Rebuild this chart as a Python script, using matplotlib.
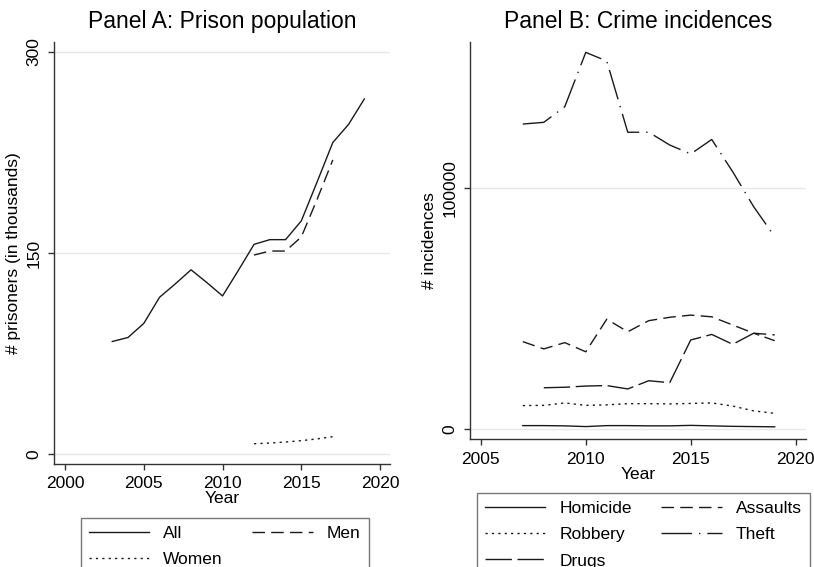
import matplotlib
matplotlib.use("Agg")
import matplotlib.pyplot as plt

plt.rcParams['font.family'] = ['Liberation Sans', 'DejaVu Sans']

# Panel A: prison population (thousands)
years_all = [2003, 2004, 2005, 2006, 2007, 2008, 2009, 2010, 2011, 2012,
             2013, 2014, 2015, 2016, 2017, 2018, 2019]
prison_all = [84, 87, 97.5, 117, 127, 137.5, 128, 118, 137, 156.5,
              160, 160, 174, 203, 232.5, 246, 265]
years_sex = [2012, 2013, 2014, 2015, 2016, 2017]
prison_men = [148.5, 151.5, 151.5, 162, 190, 219.5]
prison_women = [7.7, 8.2, 9.0, 10.0, 11.3, 13.0]

# Panel B: crime incidences
years_crime = [2007, 2008, 2009, 2010, 2011, 2012, 2013,
               2014, 2015, 2016, 2017, 2018, 2019]
homicide = [1400, 1400, 1300, 1000, 1400, 1400, 1300,
            1300, 1500, 1300, 1100, 1000, 900]
assaults = [36200, 33200, 35800, 32000, 45500, 40300, 44900,
            46300, 47200, 46500, 43100, 39700, 39000]
robbery = [9700, 9800, 10800, 9800, 10000, 10500, 10500,
           10400, 10600, 10800, 9500, 7500, 6500]
theft = [126400, 127100, 133600, 156100, 152500, 123000, 123000,
         117700, 114000, 120000, 106600, 92100, 79700]
years_drugs = [2008, 2009, 2010, 2011, 2012, 2013,
               2014, 2015, 2016, 2017, 2018, 2019]
drugs = [17100, 17300, 17800, 18000, 16600, 20000,
         19200, 36900, 39200, 35100, 39700, 36600]

LINE = '#1a1a1a'
GRID = '#e8e8e8'
SPINE = '#333333'

ls_solid = '-'
ls_dash = (0, (9, 4.5))
ls_dot = (0, (1.6, 3))
ls_longdash = (0, (19, 4))
ls_longdashdot = (0, (22, 5, 1, 5))

fig = plt.figure(figsize=(8.14, 5.67), dpi=100)
W, H = 814, 567


def px_axes(left, top, right, bottom):
    return fig.add_axes([left / W, 1 - bottom / H, (right - left) / W, (bottom - top) / H])


def style(ax):
    for s in ('top', 'right'):
        ax.spines[s].set_visible(False)
    for s in ('left', 'bottom'):
        ax.spines[s].set_color(SPINE)
        ax.spines[s].set_linewidth(1.0)
    ax.tick_params(direction='out', length=4, width=1.0, color=SPINE,
                   labelsize=12.5, pad=5)
    ax.grid(axis='y', color=GRID, linewidth=1.0)
    ax.set_axisbelow(True)
    for lab in ax.get_yticklabels():
        lab.set_rotation(90)
        lab.set_va('center')


def row_legend(ax, order, anchor_px):
    # legend laid out row by row (matplotlib fills column-wise)
    handles, labels = ax.get_legend_handles_labels()
    lookup = dict(zip(labels, handles))
    leg = ax.legend([lookup[k] for k in order], order, ncol=2, loc='upper left',
                    bbox_to_anchor=(anchor_px[0] / W, 1 - anchor_px[1] / H),
                    bbox_transform=fig.transFigure, frameon=True, fancybox=False,
                    edgecolor='#555555', fontsize=12.5, handlelength=3.5,
                    handletextpad=0.8, columnspacing=1.7, labelspacing=0.65,
                    borderpad=0.45, borderaxespad=0)
    leg.get_frame().set_linewidth(1.0)
    return leg


# Panel A
axA = px_axes(54, 42, 390, 463.7)
axA.plot(years_all, prison_all, color=LINE, lw=1.0, ls=ls_solid, label='All')
axA.plot(years_sex, prison_men, color=LINE, lw=1.0, ls=ls_dash, label='Men')
axA.plot(years_sex, prison_women, color=LINE, lw=1.0, ls=ls_dot, label='Women')
axA.set_xlim(1999.3, 2020.63)
axA.set_ylim(-7.2, 307.5)
axA.set_xticks([2000, 2005, 2010, 2015, 2020])
axA.set_yticks([0, 150, 300])
style(axA)
axA.set_xlabel('Year', fontsize=12.5, labelpad=0)
axA.set_ylabel('# prisoners (in thousands)', fontsize=12.5, labelpad=4)
axA.set_title('Panel A: Prison population', fontsize=16.5, pad=10)
row_legend(axA, ['All', 'Women', 'Men'], (80.7, 517.7))

# Panel B
axB = px_axes(470.3, 42, 806, 439.3)
axB.plot(years_crime, homicide, color=LINE, lw=1.0, ls=ls_solid, label='Homicide')
axB.plot(years_crime, assaults, color=LINE, lw=1.0, ls=ls_dash, label='Assaults')
axB.plot(years_crime, robbery, color=LINE, lw=1.0, ls=ls_dot, label='Robbery')
axB.plot(years_crime, theft, color=LINE, lw=1.0, ls=ls_longdashdot, label='Theft')
axB.plot(years_drugs, drugs, color=LINE, lw=1.0, ls=ls_longdash, label='Drugs')
axB.set_xlim(2004.5, 2020.49)
axB.set_ylim(-4270, 160400)
axB.set_xticks([2005, 2010, 2015, 2020])
axB.set_yticks([0, 100000])
axB.set_yticklabels(['0', '100000'])
style(axB)
axB.set_xlabel('Year', fontsize=12.5, labelpad=0)
axB.set_ylabel('# incidences', fontsize=12.5, labelpad=4)
axB.set_title('Panel B: Crime incidences', fontsize=16.5, pad=10)
row_legend(axB, ['Homicide', 'Robbery', 'Drugs', 'Assaults', 'Theft'], (476.7, 492.7))

fig.savefig('out.png', dpi=100)
